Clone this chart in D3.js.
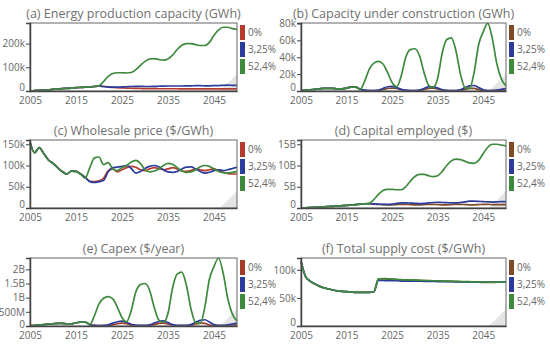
<!DOCTYPE html>
<html>
<head>
<meta charset="utf-8">
<script src="https://cdn.jsdelivr.net/npm/d3@7"></script>
<style>
  body { margin: 0; background: #fff; font-family: "Open Sans", sans-serif; }
  .tick text { fill: #666; font-size: 10px; font-family: "Open Sans", sans-serif; }
</style>
</head>
<body>
<svg id="chart" width="550" height="345"></svg>
<script>
// Scenario chart: 6 panels, 3 scenarios each (0%, 3,25%, 52,4%)

var years = d3.range(2005, 2051);
var scenarios = ["0%", "3,25%", "52,4%"];
var xTicks = [2005, 2015, 2025, 2035, 2045];

// (a) Energy production capacity, thousand GWh
var capRed = [0,2,3,4,5,7,8,10,11,12,14,15,16,17,19,21,19,17,15,14,13,12,11.5,11,10.5,10,10,10,9.5,9.5,9.5,9.5,9.5,9,9,9,9,9,9,9,9,9,9,9,9,9];
var capBlue = [0,2,3,4,5,7,8,10,11,12,14,15,16,17,19,21,19,17,16,16,17,18,19,19.5,19.5,19,19,19.5,20,20.5,21,21,21,21,21.5,22,22.5,22.5,22,22,22.5,23,24,24.5,24,24];
var capGreen = [0,2,3,4,5,7,8,10,11,12,14,15,16,17,19,22,40,62,74,77,77,76,78,90,108,125,135,137,133,130,135,152,175,193,200,200,196,192,192,205,235,258,269,269,263,260];

// (b) Capacity under construction, thousand GWh
var ucRed = [0.5,1,1.5,2,2.5,3,3,3,2.5,2.5,3.5,4.5,4.5,2,0.5,0.5,0.5,0.5,1.5,3,3.5,3,1.5,0.5,0.5,0.5,0.5,1.5,3,3.5,2.5,1,0.5,0.5,0.5,0.5,2,3,3,1.5,0.5,0.5,0.5,0.5,0.8,1];
var ucBlue = [0.5,1,1.5,2,2.5,3,3,3,2.5,2.5,3.5,4.5,4.5,2,1,0.5,0.5,1,3,5,5.5,4,2,1,0.5,0.5,1,3,5,5,3.5,1.5,0.8,0.5,0.5,1.5,4,6,6.5,4,1.5,0.5,0.5,1,2,3];
var ucGreen = [0.5,1,1.5,2,2.5,3,3,3,2.5,2.5,3.5,4.5,4.5,2,12,26,33,35,32,22,10,5,18,40,49,50,42,22,7,4,15,45,61,63,48,20,4,3,22,55,70,80,62,32,14,6];

// (c) Wholesale price, thousand $/GWh
var priceRed = [155,130,142,128,113,105,95,86,80,87,86,80,72,63,62,64,70,88,92,85,90,95,98,96,90,88,92,95,93,90,92,95,92,87,86,88,92,90,88,90,92,88,84,81,80,80];
var priceBlue = [155,130,142,128,113,105,95,86,80,87,86,80,72,62,60,62,65,85,95,96,98,100,93,82,86,93,98,100,97,90,85,84,86,92,96,97,92,86,82,84,88,90,88,90,93,96];
var priceGreen = [155,130,142,128,113,105,95,86,80,87,86,80,70,95,118,120,102,107,92,88,95,100,108,112,105,90,85,87,92,100,105,103,95,87,84,85,90,97,100,98,92,86,83,82,84,86];

// (d) Capital employed, billion $
var ceRed = [0,0.05,0.1,0.15,0.2,0.3,0.35,0.4,0.5,0.55,0.6,0.7,0.8,0.9,1.0,1.0,0.9,0.85,0.8,0.75,0.75,0.8,0.85,0.85,0.8,0.75,0.75,0.8,0.85,0.85,0.8,0.75,0.75,0.8,0.85,0.85,0.8,0.75,0.75,0.8,0.85,0.85,0.8,0.8,0.8,0.8];
var ceBlue = [0,0.05,0.1,0.15,0.2,0.3,0.35,0.4,0.5,0.55,0.6,0.7,0.8,0.9,1.0,1.05,0.95,0.9,0.85,0.85,0.9,1.1,1.2,1.2,1.15,1.1,1.05,1.1,1.2,1.3,1.35,1.3,1.25,1.2,1.2,1.3,1.45,1.6,1.6,1.55,1.5,1.45,1.4,1.45,1.5,1.5];
var ceGreen = [0,0.05,0.1,0.15,0.2,0.3,0.35,0.4,0.5,0.55,0.6,0.7,0.8,0.9,1.0,1.1,2.0,3.2,4.1,4.4,4.4,4.3,4.3,5.0,6.3,7.4,7.9,7.9,7.6,7.4,7.6,8.6,10.0,11.1,11.5,11.4,11.0,10.6,10.5,11.2,12.8,14.3,15.0,15.0,14.8,14.6];

// (e) Capex, billion $/year
var capexRed = [0.01,0.02,0.04,0.05,0.07,0.08,0.09,0.09,0.08,0.08,0.11,0.14,0.14,0.05,0.02,0.01,0.01,0.02,0.04,0.08,0.1,0.08,0.03,0.01,0.01,0.01,0.02,0.05,0.09,0.1,0.07,0.03,0.01,0.01,0.01,0.03,0.07,0.1,0.09,0.04,0.01,0.01,0.01,0.02,0.03,0.04];
var capexBlue = [0.01,0.02,0.04,0.05,0.07,0.08,0.09,0.09,0.08,0.08,0.11,0.14,0.14,0.04,0.02,0.01,0.02,0.04,0.1,0.15,0.17,0.13,0.06,0.03,0.02,0.02,0.04,0.1,0.16,0.18,0.12,0.05,0.02,0.02,0.02,0.05,0.13,0.2,0.22,0.14,0.05,0.02,0.02,0.04,0.07,0.1];
var capexGreen = [0.01,0.02,0.04,0.05,0.07,0.08,0.09,0.09,0.08,0.08,0.11,0.14,0.14,0.06,0.36,0.78,0.98,1.04,0.96,0.66,0.3,0.15,0.54,1.2,1.46,1.5,1.26,0.66,0.21,0.12,0.45,1.35,1.83,1.9,1.44,0.6,0.12,0.09,0.66,1.65,2.1,2.4,1.86,0.96,0.42,0.18];

// (f) Total supply cost, thousand $/GWh
var tscRed = [115,88,80,75,71,68,66,64,62.5,61.5,61,60.5,60,60,60,60,61,84,84,83.5,83,82.5,82,82,81.5,81.5,81,81,80.5,80.5,80,80,79.5,79.5,79,79,78.5,78.5,78,78,77.5,77.5,77.5,78,78,78];
var tscBlue = [115,88,80,75,71,68,66,64,62.5,61.5,61,60.5,60,60,60,60,61,81,81,80.5,80.5,80.5,80,80,80,80,80,79.5,79.5,79.5,79,79,79,79,78.5,78.5,78.5,78.5,78,78,78,78,78,78,78.5,78.5];
var tscGreen = [115,88,80,75,71,68,66,64,62.5,61.5,61,60.5,60,60,60,60,61,84,84.5,84,83.5,83,82.5,82,82,81.5,81.5,81,81,80.5,80.5,80,80,79.5,79.5,79,79,79,78.5,78.5,78.5,78,78,78,78,78];

var panels = [
  { title: "(a) Energy production capacity (GWh)", col: 0, row: 0, yMax: 287,
    yTicks: [0, 100, 200], yLabels: ["0", "100k", "200k"], series: [capRed, capBlue, capGreen], red: "#b73a2e" },
  { title: "(b) Capacity under construction (GWh)", col: 1, row: 0, yMax: 80.5,
    yTicks: [0, 20, 40, 60, 80], yLabels: ["0", "20k", "40k", "60k", "80k"], series: [ucRed, ucBlue, ucGreen], red: "#7f4a28" },
  { title: "(c) Wholesale price ($/GWh)", col: 0, row: 1, yMax: 160,
    yTicks: [0, 50, 100, 150], yLabels: ["0", "50k", "100k", "150k"], series: [priceRed, priceBlue, priceGreen], red: "#b73a2e" },
  { title: "(d) Capital employed ($)", col: 1, row: 1, yMax: 16,
    yTicks: [0, 5, 10, 15], yLabels: ["0", "5B", "10B", "15B"], series: [ceRed, ceBlue, ceGreen], red: "#7f4a28" },
  { title: "(e) Capex ($/year)", col: 0, row: 2, yMax: 2.4,
    yTicks: [0, 0.5, 1, 1.5, 2], yLabels: ["0", "500M", "1B", "1.5B", "2B"], series: [capexRed, capexBlue, capexGreen], red: "#a33d28" },
  { title: "(f) Total supply cost ($/GWh)", col: 1, row: 2, yMax: 121,
    yTicks: [0, 50, 100], yLabels: ["0", "50k", "100k"], series: [tscRed, tscBlue, tscGreen], red: "#7f4a28" }
];

var colLeft = [30, 301];
var colWidth = [207, 205];
var rowTop = [23, 140, 258];
var boxHeight = 68;
var blue = "#2b3c9c";
var green = "#3d8a3d";

var svg = d3.select("#chart");

panels.forEach(function(p) {
  var left = colLeft[p.col];
  var top = rowTop[p.row];
  var width = colWidth[p.col];
  var height = boxHeight;
  var colors = [p.red, blue, green];

  var g = svg.append("g")
    .attr("transform", `translate(${left}, ${top})`);

  var xScale = d3.scaleLinear().domain([2005, 2050]).range([0, width]);
  var yScale = d3.scaleLinear().domain([0, p.yMax]).range([height, 0]);

  // title
  svg.append("text")
    .attr("x", left + width / 2)
    .attr("y", top - 5)
    .attr("text-anchor", "middle")
    .attr("font-size", "12.5px")
    .attr("fill", "#6f6f6f")
    .text(p.title);

  // corner triangle
  g.append("path")
    .attr("d", `M${width},${height} L${width - 17},${height} L${width},${height - 17} Z`)
    .attr("fill", "#e4e4e4");

  // lines
  var line = d3.line()
    .x((d, i) => xScale(years[i]))
    .y(d => yScale(d))
    .curve(d3.curveMonotoneX);

  p.series.forEach(function(s, i) {
    g.append("path")
      .datum(s)
      .attr("d", line)
      .attr("fill", "none")
      .attr("stroke", colors[i])
      .attr("stroke-width", 1.7);
  });

  // box
  g.append("rect")
    .attr("width", width)
    .attr("height", height)
    .attr("fill", "none")
    .attr("stroke", "#666")
    .attr("stroke-width", 1);

  // axes
  var leftAxis = d3.axisLeft(yScale)
    .tickValues(p.yTicks)
    .tickFormat((d, i) => p.yLabels[i])
    .tickSize(4)
    .tickPadding(1);
  var bottomAxis = d3.axisBottom(xScale)
    .tickValues(xTicks)
    .tickFormat(d => String(d))
    .tickSize(0)
    .tickPadding(6);

  var ya = g.append("g").call(leftAxis);
  ya.select(".domain").attr("stroke", "#444").attr("stroke-width", 1.5);
  ya.selectAll(".tick line").attr("stroke", "#444");
  // lift the zero label a little so it clears the year labels (only where there is room)
  var gap = yScale(0) - yScale(p.yTicks[1]);
  var zeroDy = gap > 16 ? "-0.05em" : "0.15em";
  ya.selectAll(".tick text").filter(d => d === 0).attr("dy", zeroDy);

  var xa = g.append("g")
    .attr("transform", `translate(0, ${height})`)
    .call(bottomAxis);
  xa.select(".domain").attr("stroke", "#444").attr("stroke-width", 1.5);

  // legend
  scenarios.forEach(function(name, i) {
    var ly = top + 2 + i * 17;
    svg.append("rect")
      .attr("x", left + width + 3)
      .attr("y", ly)
      .attr("width", 5)
      .attr("height", 15)
      .attr("fill", colors[i]);
    svg.append("text")
      .attr("x", left + width + 11)
      .attr("y", ly + 11)
      .attr("font-size", "10px")
      .attr("fill", "#666")
      .text(name);
  });
});
</script>
</body>
</html>
